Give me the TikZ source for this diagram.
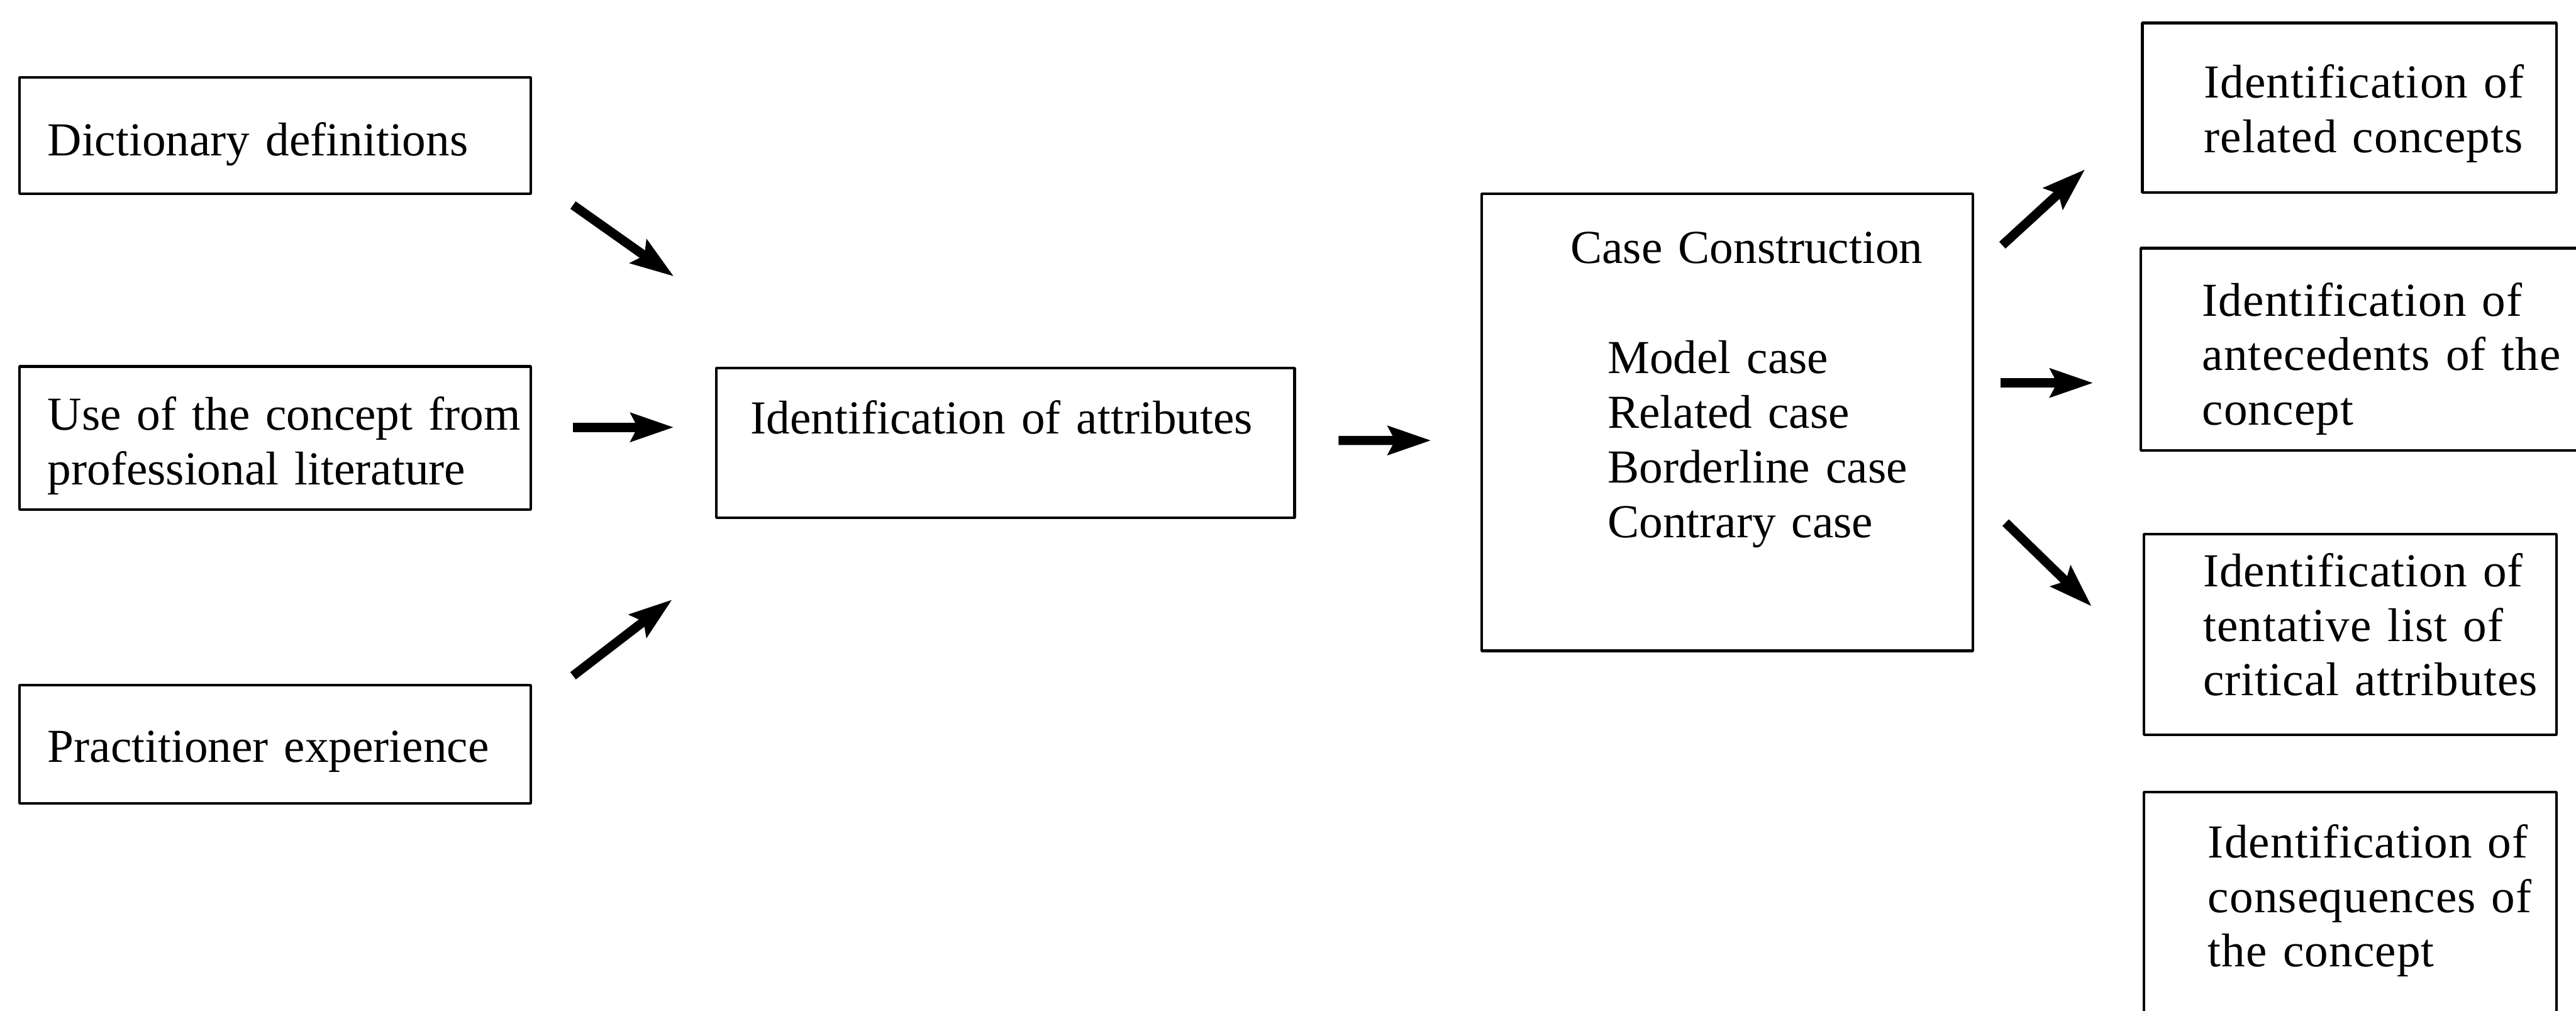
\documentclass[tikz,border=0pt]{standalone}
\usepackage{fontspec}
\setmainfont{Liberation Serif}
\usetikzlibrary{arrows.meta}
\tikzset{
  box/.style={draw, line width=0.8bp, align=left, inner ysep=0pt,
    font=\fontsize{14.4bp}{16.6bp}\selectfont,
    execute at begin node={\rightskip=-40bp plus 1fil}},
  rbox/.style={box, font=\fontsize{14.4bp}{16.6bp}\selectfont\addfontfeature{LetterSpace=1.5}},
  fat/.style={line width=2.8bp},
}
\begin{document}
\begin{tikzpicture}[>={Stealth[length=13bp,width=8.5bp,inset=2bp]},line join=bevel,]
\useasboundingbox (0,0) rectangle (784bp,-307.5bp);
%%
\node (node_dict) at (83.75bp,-41.25bp) [box,inner xsep=8.5bp,text width=138.5bp,minimum height=35.5bp,text height=15.5bp] {Dictionary definitions};
  \node (node_use) at (83.75bp,-133.25bp) [box,inner xsep=8.5bp,text width=138.5bp,minimum height=43.5bp,text height=14.8bp] {Use of the concept from\\professional literature};
  \node (node_prac) at (83.75bp,-226.5bp) [box,inner xsep=8.5bp,text width=138.5bp,minimum height=36bp,text height=13.8bp] {Practitioner experience};
  \node (node_attr) at (306bp,-134.75bp) [box,inner xsep=10.5bp,text width=155bp,minimum height=45.5bp,text depth=15.7bp] {Identification of attributes};
  \node (node_case) at (525.75bp,-128.5bp) [box,inner xsep=38.3bp,text width=72.9bp,minimum height=139bp,text depth=106.2bp] {\hspace*{-11.3bp}Case Construction\\[16.9bp]Model case\\Related case\\Borderline case\\Contrary case};
  \node (node_rel) at (715bp,-32.75bp) [rbox,inner xsep=18.75bp,text width=88.5bp,minimum height=51.5bp,text height=13.8bp] {Identification of\\related concepts};
  \node (node_ante) at (720.75bp,-106.25bp) [rbox,inner xsep=18.75bp,text width=101bp,minimum height=61.5bp,text height=16bp] {Identification of\\antecedents of the\\concept};
  \node (node_crit) at (715.25bp,-193bp) [rbox,inner xsep=18bp,text width=89.5bp,minimum height=61bp,text depth=39.2bp] {Identification of\\tentative list of\\critical attributes};
  \node (node_cons) at (715.25bp,-283bp) [rbox,inner xsep=19.5bp,text width=86.5bp,minimum height=84bp,text depth=54.2bp] {Identification of\\consequences of\\the concept};
  \draw [black,->,fat] ([shift={(12.5bp,-3bp)}]node_dict.south east) -- ([shift={(-12.5bp,27.5bp)}]node_attr.north west);
  \draw [black,->,fat] ([shift={(12.5bp,3.25bp)}]node_use.east) -- ([shift={(-12.5bp,4.75bp)}]node_attr.west);
  \draw [black,->,fat] ([shift={(12.5bp,2.5bp)}]node_prac.north east) -- ([shift={(-13bp,-24.5bp)}]node_attr.south west);
  \draw [black,->,fat] ([shift={(13bp,0.75bp)}]node_attr.east) -- ([shift={(-15bp,-5.5bp)}]node_case.west);
  \draw [black,->,fat] ([shift={(8.5bp,-16bp)}]node_case.north east) -- ([shift={(-17bp,-18.75bp)}]node_rel.west);
  \draw [black,->,fat] ([shift={(8bp,12bp)}]node_case.east) -- ([shift={(-14bp,-10.25bp)}]node_ante.west);
  \draw [black,->,fat] ([shift={(9.5bp,-30.5bp)}]node_case.east) -- ([shift={(-15.5bp,8.5bp)}]node_crit.west);
%
\end{tikzpicture}
\end{document}
